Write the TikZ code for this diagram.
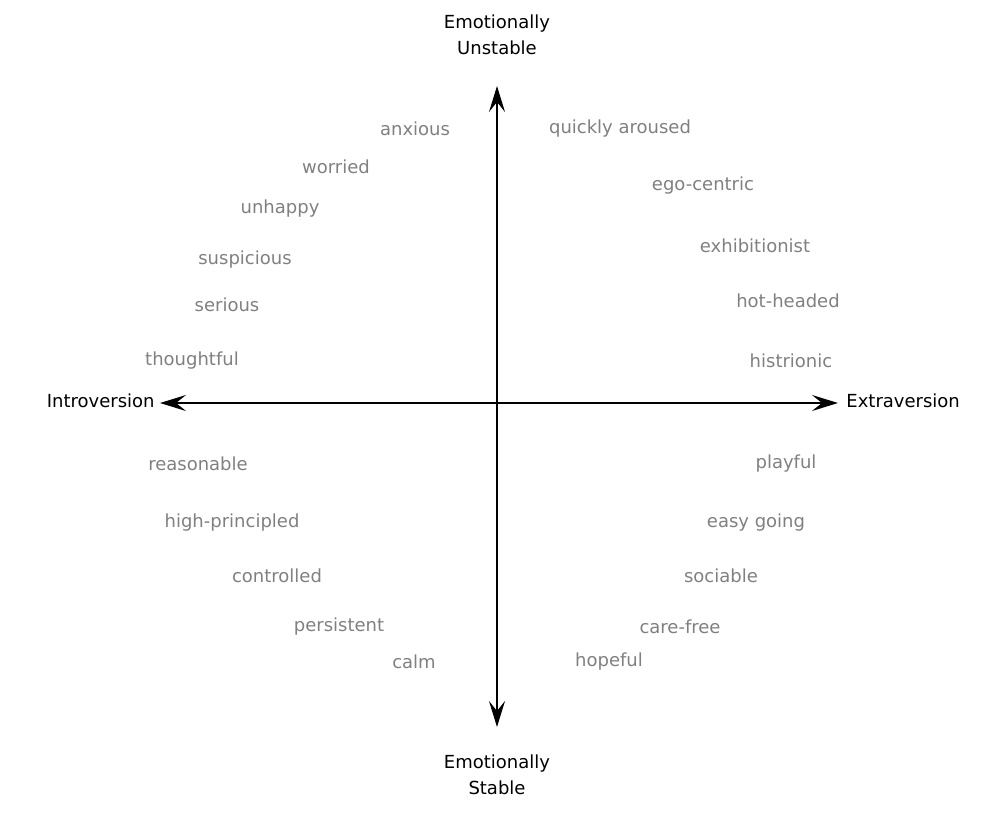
\documentclass[tikz,border=0pt]{standalone}
\usepackage{fontspec}
\setmainfont{DejaVu Sans}
\usetikzlibrary{arrows.meta}
\begin{document}
\begin{tikzpicture}[x=0.5pt,y=-0.5pt,
  trait/.style={text=black!50,font=\fontsize{9}{11}\selectfont,inner sep=0pt},
  axlab/.style={text=black,font=\fontsize{9}{13}\selectfont,inner sep=0pt,align=center},
  axis/.style={line width=1.2pt,{Stealth[length=13pt,width=8pt,inset=5pt]}-{Stealth[length=13pt,width=8pt,inset=5pt]}}]
\useasboundingbox (0,0) rectangle (1000,813);
\coordinate (top) at (497,86);
\coordinate (bot) at (497,727);
\coordinate (lft) at (160,403);
\coordinate (rgt) at (838,403);
\draw[axis] (top) -- (bot);
\draw[axis] (lft) -- (rgt);
\node[axlab] (u) at (497,35) {Emotionally\\Unstable};
\node[axlab] (s) at (497,775) {Emotionally\\Stable};
\node[axlab,anchor=east] (i) at (155,401) {Introversion};
\node[axlab,anchor=west] (e) at (846,401) {Extraversion};
\node[trait] (t1) at (415,129) {anxious};
\node[trait] (t2) at (620,129) {quickly aroused};
\node[trait] (t3) at (336,167) {worried};
\node[trait] (t4) at (703,186) {ego-centric};
\node[trait] (t5) at (280,209) {unhappy};
\node[trait] (t6) at (755,246) {exhibitionist};
\node[trait] (t7) at (245,260) {suspicious};
\node[trait] (t8) at (788,301) {hot-headed};
\node[trait] (t9) at (227,305) {serious};
\node[trait] (t10) at (192,361) {thoughtful};
\node[trait] (t11) at (791,361) {histrionic};
\node[trait] (t12) at (198,464) {reasonable};
\node[trait] (t13) at (786,464) {playful};
\node[trait] (t14) at (232,523) {high-principled};
\node[trait] (t15) at (756,523) {easy going};
\node[trait] (t16) at (277,576) {controlled};
\node[trait] (t17) at (721,576) {sociable};
\node[trait] (t18) at (339,627) {persistent};
\node[trait] (t19) at (680,627) {care-free};
\node[trait] (t20) at (414,662) {calm};
\node[trait] (t21) at (609,662) {hopeful};
\end{tikzpicture}
\end{document}
